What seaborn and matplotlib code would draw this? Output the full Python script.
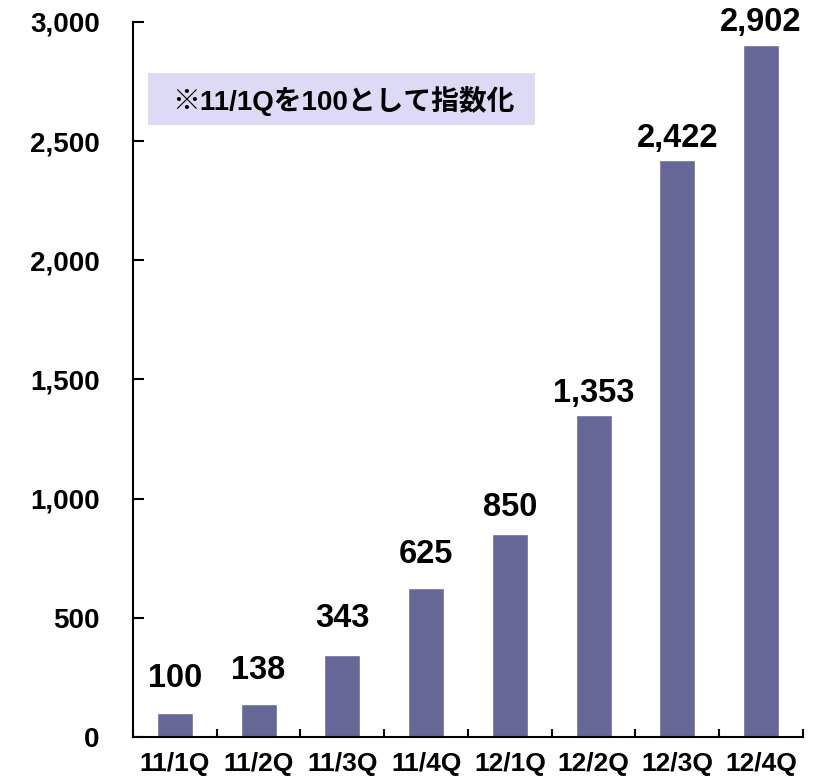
import numpy as np
import pandas as pd
import matplotlib
matplotlib.use("Agg")
import matplotlib.pyplot as plt
import seaborn as sns

# ======================================================
# DATA
# ======================================================

quarters = ["11/1Q", "11/2Q", "11/3Q", "11/4Q", "12/1Q", "12/2Q", "12/3Q", "12/4Q"]
index_values = [100, 138, 343, 625, 850, 1353, 2422, 2902]
value_labels = ["100", "138", "343", "625", "850", "1,353", "2,422", "2,902"]
y_ticks = [0, 500, 1000, 1500, 2000, 2500, 3000]
note_text = "※11/1Qを100として指数化"

# label offsets above bars (points)
label_offsets = [14, 13, 15, 13, 8, 4, 4, 5]

# ======================================================
# STYLE
# ======================================================

sns.set_style("ticks")
plt.rcParams["font.family"] = ["Liberation Sans", "Noto Sans CJK JP", "DejaVu Sans"]
plt.rcParams["text.color"] = "black"
plt.rcParams["xtick.color"] = "black"
plt.rcParams["ytick.color"] = "black"
plt.rcParams["xtick.labelcolor"] = "black"
plt.rcParams["ytick.labelcolor"] = "black"

df = pd.DataFrame({"quarter": quarters, "value": index_values})

fig = plt.figure(figsize=(8.2, 7.77), dpi=100)
ax = fig.add_axes([0.1622, 0.0515, 0.8170, 0.9202])

sns.barplot(
    data=df,
    x="quarter",
    y="value",
    color="#676797",
    saturation=1,
    width=0.43,
    ax=ax
)

ax.set_xlim(-0.5, len(quarters) - 0.5)
ax.set_ylim(0, 3000)
ax.set_yticks(y_ticks)
ax.set_yticklabels([f"{v:,}" for v in y_ticks], fontsize=20, fontweight="bold")
ax.set_xlabel("")
ax.set_ylabel("")

# x ticks between categories
ax.set_xticks(np.arange(len(quarters)))
ax.set_xticklabels(quarters, fontsize=19, fontweight="bold")
ax.set_xticks(np.arange(len(quarters) + 1) - 0.5, minor=True)
ax.tick_params(axis="x", which="major", length=0, pad=11)
ax.tick_params(axis="x", which="minor", direction="in", length=6, width=1.5)
ax.tick_params(axis="y", direction="in", length=8, width=1.5, pad=24)

for side in ["top", "right"]:
    ax.spines[side].set_visible(False)
for side in ["left", "bottom"]:
    ax.spines[side].set_linewidth(1.5)
    ax.spines[side].set_color("black")

# value labels
for i, (v, lab) in enumerate(zip(index_values, value_labels)):
    ax.annotate(
        lab,
        xy=(i, v),
        xytext=(0, label_offsets[i]),
        textcoords="offset points",
        ha="center",
        va="bottom",
        fontsize=23.5,
        fontweight="bold",
        color="black"
    )

# note box
fig.patches.append(plt.Rectangle(
    (148 / 820, 1 - 125 / 777), (535 - 148) / 820, 52 / 777,
    transform=fig.transFigure, facecolor="#dcdaf5", edgecolor="none", zorder=0
))
fig.text(
    343 / 820, 1 - 101 / 777, note_text,
    ha="center", va="center", fontsize=20, fontweight="bold", color="black"
)

fig.savefig("out.png", dpi=100)
